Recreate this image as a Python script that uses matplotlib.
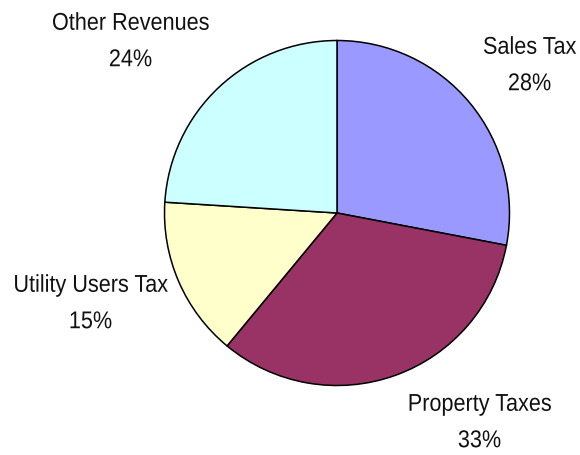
import matplotlib
matplotlib.use("Agg")
import matplotlib.pyplot as plt
from matplotlib.patheffects import AbstractPathEffect
from matplotlib.transforms import Affine2D

plt.rcParams['font.family'] = ['Liberation Sans', 'DejaVu Sans']

categories = ["Sales Tax", "Property Taxes", "Utility Users Tax", "Other Revenues"]
shares = [28, 33, 15, 24]
colors = ["#9999FF", "#993366", "#FFFFCC", "#CCFFFF"]


class HSqueeze(AbstractPathEffect):
    """Narrow the glyphs horizontally around the text anchor (Arial Narrow look)."""
    def __init__(self, sx, ax, xy):
        super().__init__()
        self.sx, self.ax, self.xy = sx, ax, xy

    def draw_path(self, renderer, gc, tpath, affine, rgbFace=None):
        x0 = self.ax.transData.transform(self.xy)[0]
        t = affine + Affine2D().translate(-x0, 0).scale(self.sx, 1).translate(x0, 0)
        renderer.draw_path(gc, tpath, t, rgbFace)


W, H = 580, 456
fig = plt.figure(figsize=(W / 100, H / 100), dpi=100)
ax = fig.add_axes([0, 0, 1, 1])
R = 172.5
cx, cy = 337, 214

ax.pie(shares, colors=colors, startangle=90, counterclock=False, radius=1,
       wedgeprops=dict(edgecolor='black', linewidth=1.1))
ax.set_xlim(-cx / R, (W - cx) / R)
ax.set_ylim(-(H - cy) / R, cy / R)
ax.set_aspect('equal')
ax.axis('off')

# label anchor (pixels from top-left) and horizontal alignment
label_px = [(576, 67, 'right'), (479.5, 424, 'center'), (90.5, 305, 'center'), (130.5, 43, 'center')]
for name, val, (px, py, ha) in zip(categories, shares, label_px):
    xy = ((px - cx) / R, (cy - py) / R)
    ax.text(xy[0], xy[1], f"{name}\n{val}%", ha=ha, va='center', multialignment='center',
            fontsize=17.5, linespacing=1.85, color='#111111',
            path_effects=[HSqueeze(0.89, ax, xy)])

fig.savefig("out.png", dpi=100)
